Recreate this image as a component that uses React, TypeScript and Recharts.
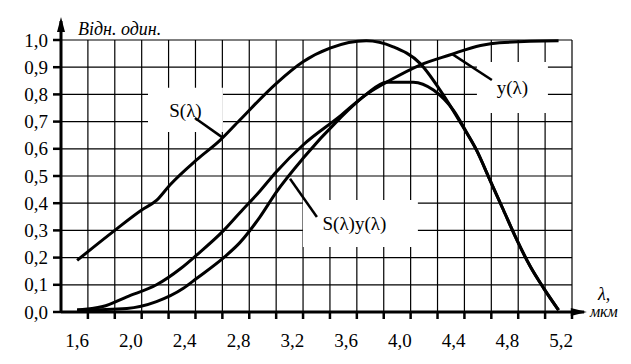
import React from 'react';
import {
  LineChart,
  Line,
  XAxis,
  YAxis,
  CartesianGrid,
  ReferenceLine,
  ReferenceArea,
  ReferenceDot,
} from 'recharts';

// S(λ)
const sLambda = [1.6, 1.88, 2.08, 2.19, 2.29, 2.49, 2.66, 2.81, 3.08, 3.28, 3.48, 3.75, 3.95, 4.15, 4.32, 4.47, 4.57, 4.67, 4.77, 4.87, 4.97, 5.07, 5.18];
const sValues = [0.19, 0.3, 0.375, 0.41, 0.467, 0.56, 0.63, 0.706, 0.84, 0.92, 0.97, 0.997, 0.975, 0.914, 0.8, 0.68, 0.595, 0.485, 0.375, 0.265, 0.167, 0.087, 0.007];

// y(λ)
const yLambda = [1.6, 1.79, 1.97, 2.19, 2.37, 2.49, 2.69, 2.81, 2.96, 3.08, 3.28, 3.55, 3.75, 3.93, 4.15, 4.37, 4.6, 4.74, 5.18];
const yValues = [0.007, 0.02, 0.056, 0.1, 0.16, 0.21, 0.3, 0.365, 0.445, 0.515, 0.614, 0.718, 0.8, 0.853, 0.908, 0.945, 0.98, 0.99, 0.997];

// S(λ)y(λ)
const syLambda = [1.6, 1.97, 2.19, 2.39, 2.49, 2.69, 2.81, 2.96, 3.08, 3.28, 3.55, 3.75, 3.9, 4.1, 4.25, 4.4, 4.5, 4.57, 4.67, 4.77, 4.87, 4.97, 5.07, 5.18];
const syValues = [0.007, 0.013, 0.038, 0.087, 0.124, 0.2, 0.255, 0.35, 0.44, 0.565, 0.71, 0.8, 0.845, 0.845, 0.816, 0.74, 0.657, 0.595, 0.485, 0.375, 0.265, 0.167, 0.087, 0.007];

const xLabelTicks = [1.6, 2.0, 2.4, 2.8, 3.2, 3.6, 4.0, 4.4, 4.8, 5.2];
const xGridTicks = [1.68, 1.88, 2.08, 2.28, 2.48, 2.68, 2.88, 3.08, 3.28, 3.48, 3.68, 3.88, 4.08, 4.28, 4.48, 4.68, 4.88, 5.08, 5.28];
const yTicks = [0, 0.1, 0.2, 0.3, 0.4, 0.5, 0.6, 0.7, 0.8, 0.9, 1.0];

const xDomain: [number, number] = [1.48, 5.28];
const yDomain: [number, number] = [0, 1];

const yAxisTitle = 'Відн. один.';
const xAxisTitle1 = 'λ,';
const xAxisTitle2 = 'мкм';
const sLabel = 'S(λ)';
const yLabel = 'y(λ)';
const syLabel = 'S(λ)y(λ)';

const toPoints = (xs: number[], vs: number[]) => xs.map((x, i) => ({ x, v: vs[i] }));
const sData = toPoints(sLambda, sValues);
const yData = toPoints(yLambda, yValues);
const syData = toPoints(syLambda, syValues);

const FONT = "'Times New Roman', Times, 'Liberation Serif', 'Noto Serif', 'DejaVu Serif', serif";
const fmt = (v: number) => v.toFixed(1).replace('.', ',');

const XTick = (props: any) => {
  const { x, y, payload } = props;
  const v = Number(payload.value);
  const isLabel = xLabelTicks.some((t) => Math.abs(t - v) < 1e-6);
  if (isLabel) {
    return (
      <text x={x} y={y + 31} textAnchor="middle" dominantBaseline="middle" style={{ fontFamily: FONT, fontSize: 19 }} fill="#000">
        {fmt(v)}
      </text>
    );
  }
  return <line x1={x} y1={y} x2={x} y2={y + 7} stroke="#000" strokeWidth={2.5} />;
};

const YTick = (props: any) => {
  const { x, y, payload } = props;
  return (
    <text x={x} y={y} textAnchor="end" dominantBaseline="central" style={{ fontFamily: FONT, fontSize: 19 }} fill="#000">
      {fmt(Number(payload.value))}
    </text>
  );
};

const textShape = (value: string, opts: { anchor?: string; size?: number; italic?: boolean }) => (p: any) => (
  <text
    x={p.cx}
    y={p.cy}
    textAnchor={opts.anchor || 'start'}
    style={{ fontFamily: FONT, fontSize: opts.size || 19, fontStyle: opts.italic ? 'italic' : 'normal' }}
    fill="#000"
  >
    {value}
  </text>
);

const upArrow = (p: any) => (
  <polygon points={`${p.cx},${p.cy} ${p.cx - 4},${p.cy + 15} ${p.cx + 4},${p.cy + 15}`} fill="#000" />
);
const rightArrow = (p: any) => (
  <polygon points={`${p.cx},${p.cy} ${p.cx - 16},${p.cy - 4} ${p.cx - 16},${p.cy + 4}`} fill="#000" />
);

const gridX = (args: any) => {
  const { xAxis, offset } = args || {};
  if (xAxis && typeof xAxis.scale === 'function') return xGridTicks.map((t) => xAxis.scale(t));
  const left = offset.left;
  const w = offset.width;
  return xGridTicks.map((t) => left + ((t - xDomain[0]) / (xDomain[1] - xDomain[0])) * w);
};

const labelStyle = { fontFamily: FONT, fontSize: 19, fill: '#000' };

export default function App() {
  return (
    <div style={{ position: 'absolute', left: 0, top: 0, width: 631, height: 364, background: '#fff', fontFamily: FONT }}>
      <LineChart width={631} height={364} margin={{ top: 40, right: 59, bottom: 12, left: 11 }} style={{ fontFamily: FONT }}>
        <CartesianGrid stroke="#000" strokeWidth={1.2} verticalCoordinatesGenerator={gridX} />
        <XAxis
          dataKey="x"
          type="number"
          domain={xDomain}
          allowDataOverflow
          ticks={[...xGridTicks, ...xLabelTicks]}
          interval={0}
          axisLine={false}
          tickLine={false}
          tickSize={0}
          tickMargin={0}
          height={40}
          tick={<XTick />}
        />
        <YAxis
          type="number"
          domain={yDomain}
          ticks={yTicks}
          interval={0}
          width={50}
          axisLine={false}
          tickLine={{ stroke: '#000', strokeWidth: 2.5 }}
          tickSize={8}
          tickMargin={5}
          tick={<YTick />}
        />
        <ReferenceArea x1={2.127} x2={2.684} y1={0.662} y2={0.824} fill="#fff" fillOpacity={1} stroke="none"
          label={{ value: sLabel, position: 'center', ...labelStyle }} />
        <ReferenceArea x1={4.573} x2={5.101} y1={0.732} y2={0.919} fill="#fff" fillOpacity={1} stroke="none"
          label={{ value: yLabel, position: 'center', ...labelStyle }} />
        <ReferenceArea x1={3.279} x2={4.134} y1={0.239} y2={0.412} fill="#fff" fillOpacity={1} stroke="none"
          label={{ value: syLabel, position: 'center', dx: -6, ...labelStyle }} />

        <ReferenceLine segment={[{ x: 1.48, y: 0 }, { x: 1.48, y: 1.07 }]} stroke="#000" strokeWidth={3} ifOverflow="visible" />
        <ReferenceLine segment={[{ x: 1.48, y: 0 }, { x: 5.37, y: 0 }]} stroke="#000" strokeWidth={3} ifOverflow="visible" />
        <ReferenceDot x={1.48} y={1.085} ifOverflow="visible" shape={upArrow} />
        <ReferenceDot x={5.39} y={0} ifOverflow="visible" shape={rightArrow} />

        <ReferenceLine segment={[{ x: 2.476, y: 0.713 }, { x: 2.677, y: 0.643 }]} stroke="#000" strokeWidth={2.5} ifOverflow="visible" />
        <ReferenceLine segment={[{ x: 4.387, y: 0.949 }, { x: 4.684, y: 0.853 }]} stroke="#000" strokeWidth={2.5} ifOverflow="visible" />
        <ReferenceLine segment={[{ x: 3.183, y: 0.49 }, { x: 3.383, y: 0.349 }]} stroke="#000" strokeWidth={2.5} ifOverflow="visible" />

        <Line data={sData} dataKey="v" type="monotone" stroke="#000" strokeWidth={3} dot={false} isAnimationActive={false} />
        <Line data={yData} dataKey="v" type="monotone" stroke="#000" strokeWidth={3} dot={false} isAnimationActive={false} />
        <Line data={syData} dataKey="v" type="monotone" stroke="#000" strokeWidth={3} dot={false} isAnimationActive={false} />

        <ReferenceDot x={1.606} y={1.018} ifOverflow="visible" shape={textShape(yAxisTitle, { size: 18, italic: true })} />
        <ReferenceDot x={5.473} y={0.044} ifOverflow="visible" shape={textShape(xAxisTitle1, { size: 18, italic: true })} />
        <ReferenceDot x={5.413} y={-0.018} ifOverflow="visible" shape={textShape(xAxisTitle2, { size: 16, italic: true })} />
      </LineChart>
    </div>
  );
}
